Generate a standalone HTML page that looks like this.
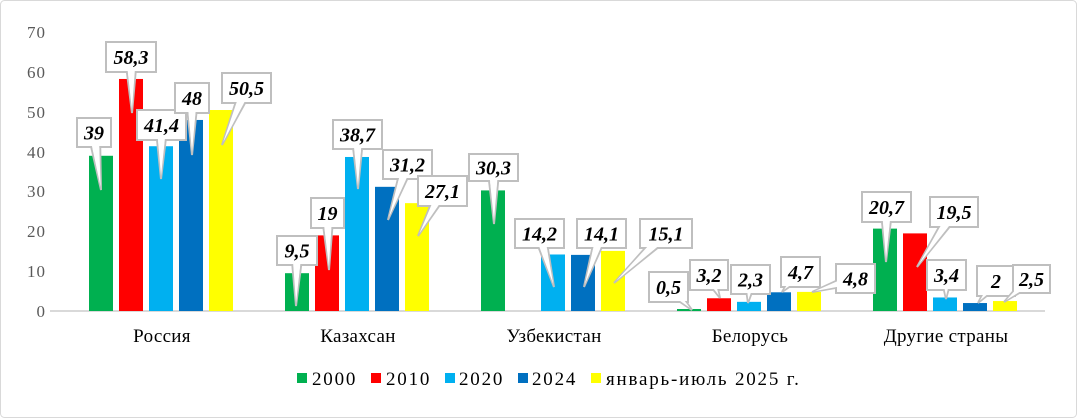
<!DOCTYPE html>
<html><head><meta charset="utf-8"><style>
body{margin:0;background:#fff}
svg{display:block;font-family:"Liberation Serif",serif}
</style></head><body>
<svg id="s" width="1077" height="418" viewBox="0 0 1077 418" xmlns="http://www.w3.org/2000/svg">
<rect x="0.5" y="0.5" width="1076" height="417" rx="4" fill="#fff" stroke="#d9d9d9"/>
<line x1="50" y1="311" x2="1045" y2="311" stroke="#d9d9d9" stroke-width="2"/>
<g font-size="17" text-anchor="end" fill="#595959" letter-spacing="1">
<text x="46" y="317">0</text><text x="46" y="277">10</text><text x="46" y="237">20</text><text x="46" y="197">30</text><text x="46" y="158">40</text><text x="46" y="118">50</text><text x="46" y="78">60</text><text x="46" y="38">70</text>
</g>
<g font-size="19" text-anchor="middle" letter-spacing="0.3">
<text x="162" y="342">Россия</text><text x="358" y="342">Казахсан</text><text x="554" y="342">Узбекистан</text><text x="750" y="342">Белорусь</text><text x="946" y="342">Другие страны</text>
</g>
<g font-size="19" letter-spacing="1.8">
<rect x="297" y="373" width="10" height="10" fill="#00b050"/><text x="312" y="385">2000</text>
<rect x="371" y="373" width="10" height="10" fill="#ff0000"/><text x="386" y="385">2010</text>
<rect x="445" y="373" width="10" height="10" fill="#00b0f0"/><text x="459" y="385">2020</text>
<rect x="518" y="373" width="10" height="10" fill="#0070c0"/><text x="532" y="385">2024</text>
<rect x="591" y="373" width="10" height="10" fill="#ffff00"/><text x="606" y="385">январь-июль 2025 г.</text>
</g>
<g id="bars"></g><g id="lbl"></g>
</svg>
<script>
var data=[[39,58.3,41.4,48,50.5],[9.5,19,38.7,31.2,27.1],[30.3,0,14.2,14.1,15.1],[0.5,3.2,2.3,4.7,4.8],[20.7,19.5,3.4,2,2.5]];
var cols=["#00b050","#ff0000","#00b0f0","#0070c0","#ffff00"];
var h='';
for(var g=0;g<5;g++)for(var i=0;i<5;i++){var v=data[g][i];if(!v)continue;var x=89+196*g+30*i,hh=v*3.98;h+='<rect x="'+x+'" y="'+(311-hh)+'" width="24" height="'+hh+'" fill="'+cols[i]+'"/>';}
document.getElementById('bars').innerHTML=h;
var L=[["39",77,118,111,147,101,190],["58,3",106,42,156,72,132,113],["41,4",137,110,186,140,161,179],["48",175,83,209,113,192,155],["50,5",222,73,271,103,222,145],
["9,5",277,236,317,265,296,306],["19",311,198,344,228,329,270],["38,7",333,120,382,149,358,189],["31,2",383,150,432,179,388,220],["27,1",418,176,467,206,418,236],
["30,3",469,154,518,181,494,224],["14,2",515,219,564,248,554,287],["14,1",577,219,626,248,584,287],["15,1",640,219,692,248,614,283],
["0,5",649,272,688,302,692,310],["3,2",690,260,728,290,720,298],["2,3",731,265,770,294,748,303],["4,7",781,257,820,287,782,292],["4,8",836,264,875,293,812,292],
["20,7",862,192,911,222,886,262],["19,5",930,197,978,227,917,267],["3,4",927,260,966,290,946,299],["2",977,266,1015,296,978,303],["2,5",1013,265,1050,293,1004,302]];
var s='';
L.forEach(function(a){var x0=a[1],y0=a[2],x1=a[3],y1=a[4],tx=a[5],ty=a[6],cx=(x0+x1)/2,cy=(y0+y1)/2;
var dx=tx-cx,dy=ty-cy,len=Math.sqrt(dx*dx+dy*dy),px=-dy/len*6,py=dx/len*6;
s+='<polygon points="'+(cx+px)+','+(cy+py)+' '+tx+','+ty+' '+(cx-px)+','+(cy-py)+'" fill="#fff" stroke="#bfbfbf" stroke-width="2"/>';
s+='<rect x="'+x0+'" y="'+y0+'" width="'+(x1-x0)+'" height="'+(y1-y0)+'" fill="#fff" stroke="#bfbfbf" stroke-width="2"/>';
s+='<polygon points="'+(cx+px*0.8)+','+(cy+py*0.8)+' '+(tx-dx/len*3)+','+(ty-dy/len*3)+' '+(cx-px*0.8)+','+(cy-py*0.8)+'" fill="#fff"/>';
s+='<text x="'+cx+'" y="'+(cy+7)+'" text-anchor="middle" font-size="20" font-weight="bold" font-style="italic">'+a[0]+'</text>';});
document.getElementById('lbl').innerHTML=s;
</script>
</body></html>
